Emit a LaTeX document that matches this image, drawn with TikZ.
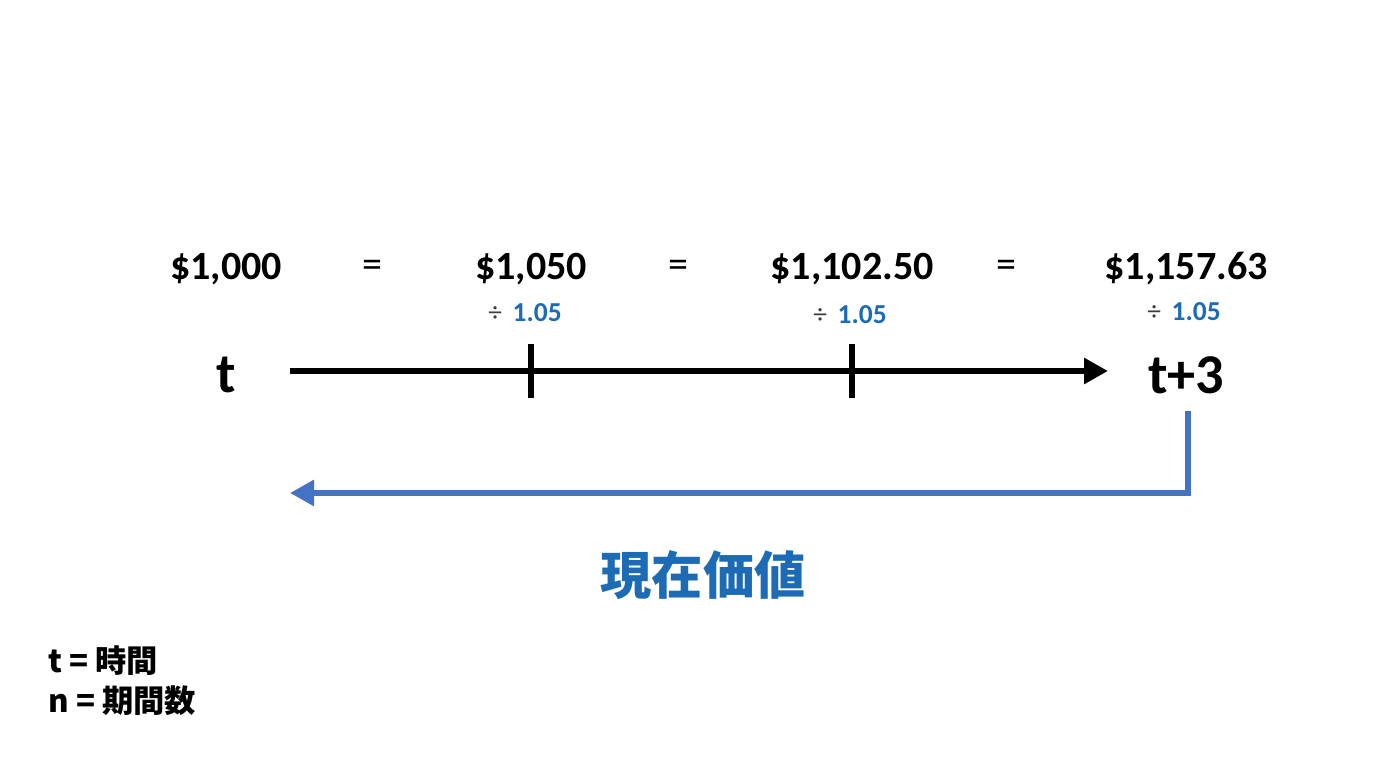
\documentclass[tikz,border=0pt]{standalone}
\usepackage{fontspec}
\setmainfont{Carlito}
\newfontfamily\jpfont{Noto Sans CJK JP}
\usetikzlibrary{positioning,arrows.meta}
\definecolor{pvblue}{RGB}{28,107,180}
\definecolor{arrowblue}{RGB}{68,114,196}
\definecolor{divgray}{RGB}{60,60,60}

\tikzset{
  amount/.style={font=\fontsize{11.4}{13}\selectfont\bfseries},
  eqsign/.style={font=\fontsize{11.4}{13}\selectfont},
  divisor/.style={font=\fontsize{7.8}{9}\selectfont},
  timelabel/.style={font=\fontsize{16}{18}\selectfont\bfseries},
  legend/.style={anchor=west, font=\jpfont\fontsize{8.9}{10}\selectfont\bfseries},
  tip/.style={-{Triangle[length=0.24cm,width=0.25cm]}}
}

\begin{document}
\begin{tikzpicture}
    \useasboundingbox (0,0) rectangle (13.76,7.68);

    % Amounts
    \node[amount] (a0) at (2.26,4.99) {\$1,000};
    \node[amount] (a1) at (5.31,4.99) {\$1,050};
    \node[amount] (a2) at (8.52,4.99) {\$1,102.50};
    \node[amount] (a3) at (11.86,4.99) {\$1,157.63};
    \foreach \x/\n in {3.72/e1, 6.78/e2, 10.06/e3} \node[eqsign] (\n) at (\x,4.99) {=};

    % Divisors
    \foreach \x/\y/\n in {5.25/4.55/d1, 8.50/4.53/d2, 11.84/4.56/d3}
        \node[divisor] (\n) at (\x,\y) {\textcolor{divgray}{÷}\, \textcolor{pvblue}{\bfseries 1.05}};

    % Time axis
    \node[timelabel] (t0) at (2.26,3.93) {t};
    \node[timelabel] (t3) at (11.86,3.93) {t+3};
    \coordinate (axstart) at (2.90,3.97);
    \coordinate (axend) at (11.08,3.97);
    \draw[line width=1.7pt, tip] (axstart) -- (axend);
    \foreach \x/\n in {5.31/k1, 8.52/k2} {
        \coordinate (\n) at (\x,3.97);
        \draw[line width=1.7pt] (\n) ++(0,0.27) -- ++(0,-0.54);
    }

    % Present value arrow
    \coordinate (pvtop) at (11.88,3.57);
    \coordinate (pvend) at (2.90,2.75);
    \draw[arrowblue, line width=1.6pt, tip] (pvtop) |- (pvend);
    \node[font=\jpfont\fontsize{14.6}{16}\selectfont\bfseries, text=pvblue] (pv) at (7.03,1.93) {現在価値};

    % Legend
    \node[legend] (legt) at (0.36,1.07) {t = 時間};
    \node[legend] (legn) at (0.36,0.67) {n = 期間数};
\end{tikzpicture}
\end{document}
